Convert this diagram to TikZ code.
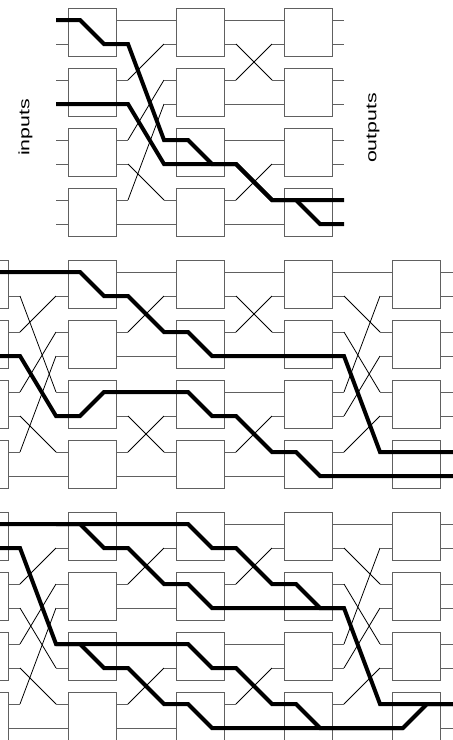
\documentclass[tikz,border=0pt]{standalone}
\usepackage{fontspec}
\setmainfont{Liberation Sans}
\definecolor{wgray}{RGB}{96,96,96}
% wire y of wire #2 in a network whose first box row starts at #1
\newcommand\wirey[2]{\pgfmathsetmacro\wyv{#1+12+60*floor(#2/2)+24*mod(#2,2)}}
% links between a column whose right edge is #1 and the next one, base #2, mapping #3 (a macro)
\newcommand\linkcols[3]{%
  \foreach \i/\j in #3 {%
    \wirey{#2}{\i}\let\ya\wyv
    \wirey{#2}{\j}\let\yb\wyv
    \ifnum\i=\j
      \draw[stub] (#1,\ya) -- (#1+60,\yb);
    \else
      \draw[stub] (#1,\ya) -- (#1+12,\ya);
      \draw[cross] (#1+12,\ya) -- (#1+48,\yb);
      \draw[stub] (#1+48,\yb) -- (#1+60,\yb);
    \fi
  }}
\newcommand\unshufflemap{0/0,1/4,2/1,3/5,4/2,5/6,6/3,7/7}
\newcommand\swapmap{0/0,1/2,2/1,3/3,4/4,5/6,6/5,7/7}
\newcommand\shufflemap{0/0,1/2,2/4,3/6,4/1,5/3,6/5,7/7}
\begin{document}
\begin{tikzpicture}[x=1pt,y=-1pt,
  box/.style={draw=wgray, line width=1pt, fill=white, minimum width=48pt,
    minimum height=48pt, inner sep=0pt, outer sep=0pt, anchor=north west},
  stub/.style={draw=wgray, line width=1pt},
  cross/.style={draw=black, line width=0.8pt},
  route/.style={draw=black, line width=4pt, line join=miter},
  lab/.style={rotate=90, inner sep=0pt, font=\fontsize{15pt}{16pt}\selectfont}]
\useasboundingbox (0,0) rectangle (453,740);
\clip (0,0) rectangle (453,740);

% ---------- top network (3 stages) ----------
\foreach \c/\x in {1/68,2/176,3/284}
  \foreach \r in {0,1,2,3}
    \node[box] (t-\c-\r) at (\x,8+60*\r) {};
\foreach \k in {0,...,7}{
  \wirey{8}{\k}
  \draw[stub] (56,\wyv) -- (68,\wyv);
  \draw[stub] (332,\wyv) -- (344,\wyv);
}
\linkcols{116}{8}{\unshufflemap}
\linkcols{224}{8}{\swapmap}

% ---------- middle and bottom networks (5 stages) ----------
\foreach \n/\b in {m/260,b/512}{
  \foreach \c/\x in {0/-40,1/68,2/176,3/284,4/392}
    \foreach \r in {0,1,2,3}
      \node[box] (\n-\c-\r) at (\x,\b+60*\r) {};
  \foreach \k in {0,...,7}{
    \wirey{\b}{\k}
    \draw[stub] (440,\wyv) -- (453,\wyv);
  }
  \linkcols{8}{\b}{\unshufflemap}
  \linkcols{116}{\b}{\swapmap}
  \linkcols{224}{\b}{\swapmap}
  \linkcols{332}{\b}{\shufflemap}
}

% ---------- labels ----------
\node[lab] (inputs) at (25.5,127.5) {\scalebox{1.42}[1]{inputs}};
\node[lab] (outputs) at (373,128) {\scalebox{1.42}[1]{outputs}};

% ---------- routed paths ----------
\draw[route] (56,20)--(80,20)--(104,44)--(128,44)--(164,140)--(188,140)--(212,164)
  --(236,164)--(272,200)--(296,200)--(320,224)--(344,224);
\draw[route] (56,104)--(128,104)--(164,164)--(236,164)--(272,200)--(344,200);

\draw[route] (-5,272)--(80,272)--(104,296)--(128,296)--(164,332)--(188,332)--(212,356)
  --(344,356)--(380,452)--(460,452);
\draw[route] (-5,356)--(20,356)--(56,416)--(80,416)--(104,392)--(188,392)--(212,416)
  --(236,416)--(272,452)--(296,452)--(320,476)--(460,476);

\draw[route] (-5,524)--(188,524)--(212,548)--(236,548)--(272,584)--(296,584)--(320,608)
  --(344,608)--(380,704)--(460,704);
\draw[route] (56,524)--(80,524)--(104,548)--(128,548)--(164,584)--(188,584)--(212,608)
  --(344,608);
\draw[route] (-5,548)--(20,548)--(56,644)--(188,644)--(212,668)--(236,668)--(272,704)
  --(296,704)--(320,728)--(403,728)--(427,704)--(460,704);
\draw[route] (56,644)--(80,644)--(104,668)--(128,668)--(164,704)--(188,704)--(212,728)
  --(403,728);
\end{tikzpicture}
\end{document}
